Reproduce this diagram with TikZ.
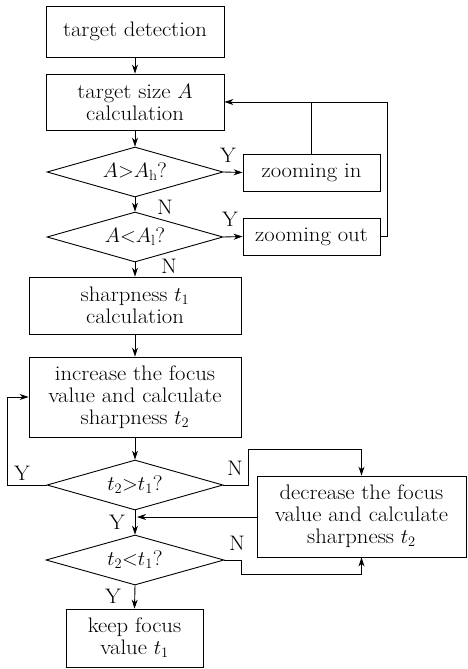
\documentclass[tikz,border=0pt]{standalone}
\usepackage{fontspec}
\setmainfont{Latin Modern Roman}[FakeStretch=1.08]
\usetikzlibrary{shapes.geometric,arrows.meta}
\begin{document}
\begin{tikzpicture}[x=1pt,y=-1pt,
  every node/.style={font=\fontsize{21}{22}\selectfont},
  box/.style={draw,line width=0.9pt,rectangle,align=center,inner sep=0pt},
  dia/.style={draw,line width=0.9pt,diamond,aspect=3.5,inner sep=0pt,align=center},
  lbl/.style={inner sep=0pt},
  conn/.style={line width=0.9pt},
  arr/.style={conn,-{Stealth[length=9pt,width=6pt]}}]
\useasboundingbox[fill=white] (0,0) rectangle (467,669);
\node[box,minimum width=178,minimum height=51] (b1) at (135,31.5) {target detection};
\node[box,minimum width=178,minimum height=56] (b2) at (135,102) {target size $A$\\calculation};
\node[dia,minimum width=176,minimum height=50] (d1) at (135,172) {$A{>}A_{\mathrm{h}}$?};
\node[dia,minimum width=176,minimum height=50] (d2) at (135,237) {$A{<}A_{\mathrm{l}}$?};
\node[box,minimum width=137,minimum height=37] (zin) at (311.5,172.5) {zooming in};
\node[box,minimum width=137,minimum height=37] (zout) at (311.5,236.5) {zooming out};
\node[box,minimum width=212,minimum height=57] (b3) at (135,305.5) {sharpness $t_1$\\calculation};
\node[box,minimum width=212,minimum height=80] (b4) at (135,397) {increase the focus\\value and calculate\\sharpness $t_2$};
\node[dia,minimum width=176,minimum height=50] (d3) at (135,485) {$t_2{>}t_1$?};
\node[dia,minimum width=178,minimum height=50] (d4) at (135,560) {$t_2{<}t_1$?};
\node[box,minimum width=137,minimum height=58] (keep) at (134.5,638) {keep focus\\value $t_1$};
\node[box,minimum width=209,minimum height=81] (dec) at (361.5,516.5) {decrease the focus\\value and calculate\\sharpness $t_2$};
% connectors
\draw[arr] (b1) -- (b2);
\draw[arr] (b2) -- (d1);
\draw[arr] (d1.east) -- (zin.west);
\draw[arr] (d1.south) -- (d2.north);
\draw[arr] (d2.east) -- (zout.west);
\draw[arr] (d2.south) -- (b3.north);
\draw[conn] (zin.north) -- (zin.north |- b2.east);
\draw[arr] (zout.east) -- ++(7,0) |- (b2.east);
\draw[arr] (b3) -- (b4);
\draw[arr] (b4) -- (d3);
\draw[arr] (d3.west) -- (7,485) |- (b4.west);
\draw[arr] (d3.east) -- (248,485) -- (248,449) -| (dec.north);
\draw[arr] (d3.south) -- (d4.north);
\coordinate (j) at (137,517);
\draw[arr] (dec.west |- j) -- (j);
\draw[arr] (d4.east) -- (241,560) -- (241,574) -| (dec.south);
\draw[arr] (d4.south) -- (keep.north);
% labels
\node[lbl] (y1) at (228,155) {Y};
\node[lbl] (n1) at (165,207) {N};
\node[lbl] (y2) at (230,219) {Y};
\node[lbl] (n2) at (169,266) {N};
\node[lbl] (y3) at (22,473) {Y};
\node[lbl] (n3) at (235,468) {N};
\node[lbl] (y4) at (117,522) {Y};
\node[lbl] (n4) at (237,543) {N};
\node[lbl] (y5) at (113,596) {Y};
\end{tikzpicture}
\end{document}
